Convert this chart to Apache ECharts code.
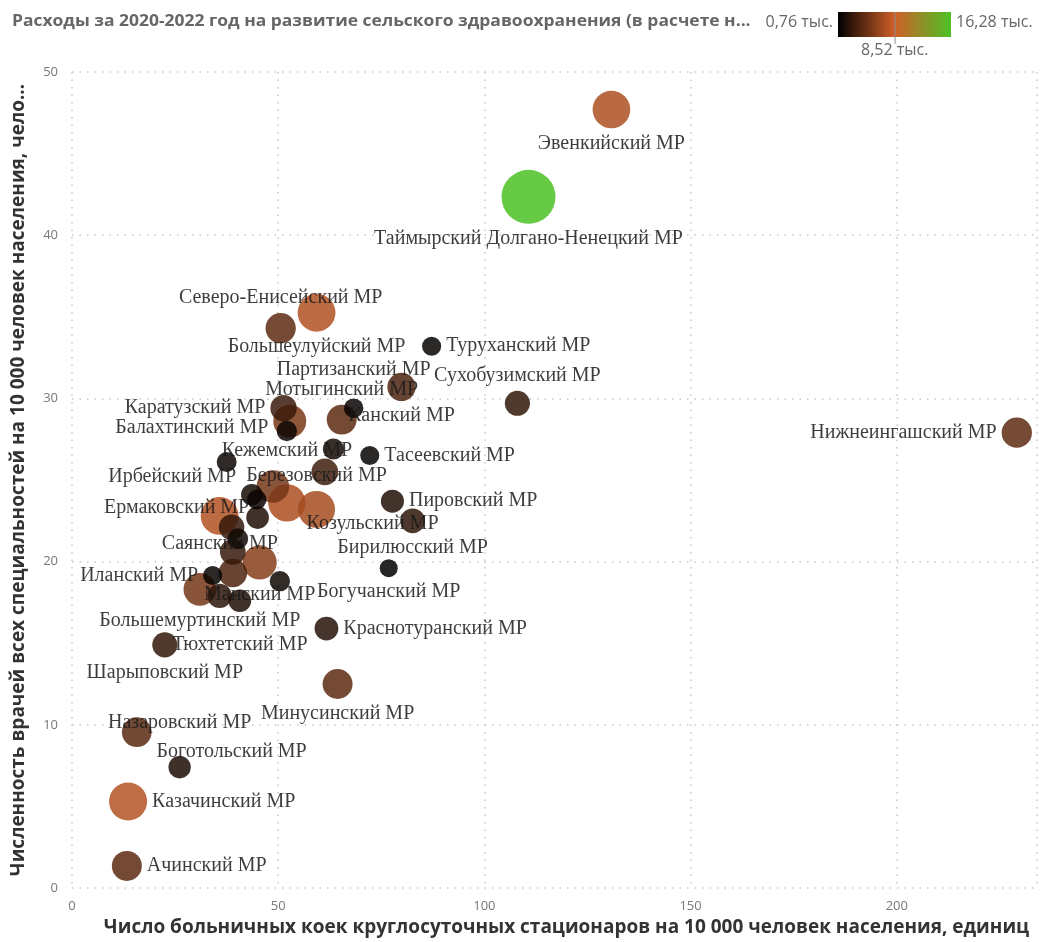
<!DOCTYPE html>
<html>
<head>
<meta charset="utf-8">
<script src="https://cdn.jsdelivr.net/npm/echarts@6/dist/echarts.min.js"></script>
<style>
  html, body { margin: 0; padding: 0; background: #fff; }
  #chart { width: 1040px; height: 942px; }
</style>
</head>
<body>
<div id="chart"></div>
<script>
// Municipal districts of Krasnoyarsk Krai
const districts = [
  'Эвенкийский МР', 'Таймырский Долгано-Ненецкий МР', 'Северо-Енисейский МР', 'Большеулуйский МР',
  'Туруханский МР', 'Партизанский МР', 'Сухобузимский МР', 'Мотыгинский МР', 'Канский МР',
  'Каратузский МР', 'Балахтинский МР', 'Кежемский МР', 'Ирбейский МР', 'Тасеевский МР',
  'Березовский МР', 'Пировский МР', 'Козульский МР', 'Бирилюсский МР', 'Богучанский МР',
  'Манский МР', 'Ермаковский МР', 'Саянский МР', 'Иланский МР', 'Большемуртинский МР',
  'Тюхтетский МР', 'Шарыповский МР', 'Краснотуранский МР', 'Минусинский МР', 'Назаровский МР',
  'Боготольский МР', 'Казачинский МР', 'Ачинский МР', 'Нижнеингашский МР',
  'Абанский МР', 'Дзержинский МР', 'Емельяновский МР', 'Енисейский МР', 'Идринский МР',
  'Курагинский МР', 'Новоселовский МР', 'Рыбинский МР', 'Ужурский МР', 'Уярский МР', 'Шушенский МР'
];

// Hospital beds per 10 000 population
const bedsPer10k = [
  130.8, 110.7, 50.6, 59.3,
  87.2, 68.3, 108.0, 65.4, 79.9,
  51.3, 52.8, 52.1, 43.6, 72.2,
  59.3, 77.7, 52.1, 82.6, 76.8,
  45.5, 45.0, 39.0, 34.1, 31.0,
  40.7, 22.5, 61.7, 64.4, 26.1,
  15.7, 13.6, 13.3, 229.1,
  63.4, 61.3, 37.5, 48.7, 44.8,
  35.8, 38.7, 40.2, 39.0, 50.4, 35.8
];

// Doctors of all specialties per 10 000 population
const doctorsPer10k = [
  47.7, 42.35, 34.3, 35.25,
  33.2, 29.4, 29.7, 28.7, 30.7,
  29.4, 28.6, 28.0, 24.1, 26.5,
  23.2, 23.7, 23.6, 22.5, 19.6,
  19.95, 22.7, 19.3, 19.15, 18.3,
  17.6, 14.9, 15.9, 12.5, 7.4,
  9.55, 5.3, 1.35, 27.9,
  26.9, 25.5, 26.1, 24.6, 23.8,
  22.8, 22.1, 21.4, 20.6, 18.8, 17.9
];

// Rural healthcare spending 2020-2022 per capita, thousand rubles
const spendingThous = [
  7.3, 16.28, 4.3, 7.4,
  1.0, 1.1, 2.6, 4.2, 3.6,
  3.0, 5.3, 1.3, 1.6, 1.0,
  7.0, 2.0, 7.2, 2.5, 0.76,
  5.8, 1.9, 3.7, 1.0, 5.2,
  1.9, 2.6, 2.2, 4.2, 1.8,
  4.1, 7.5, 4.2, 4.3,
  1.5, 3.1, 1.2, 5.2, 1.1,
  7.4, 2.7, 1.4, 2.8, 1.3, 2.4
];

const xTicks = [0, 50, 100, 150, 200];
const yTicks = [0, 10, 20, 30, 40, 50];
const spendMin = 0.76, spendMid = 8.52, spendMax = 16.28;
const spendColors = ['#000000', '#cf5f28', '#4cc125'];

// Districts whose labels are suppressed because of crowding
const unlabeled = new Set([
  'Абанский МР', 'Дзержинский МР', 'Емельяновский МР', 'Енисейский МР', 'Идринский МР',
  'Курагинский МР', 'Новоселовский МР', 'Рыбинский МР', 'Ужурский МР', 'Уярский МР', 'Шушенский МР'
]);

// Label placement around each bubble
const labelSide = {
  'Эвенкийский МР': ['bottom'], 'Таймырский Долгано-Ненецкий МР': ['bottom'],
  'Северо-Енисейский МР': ['top'], 'Большеулуйский МР': ['bottom'],
  'Туруханский МР': ['right'], 'Партизанский МР': ['top', [0, -14]],
  'Сухобузимский МР': ['top'], 'Мотыгинский МР': ['top'], 'Канский МР': ['bottom'],
  'Каратузский МР': ['left'], 'Балахтинский МР': ['left', [0, 7]], 'Кежемский МР': ['bottom', [0, -5]],
  'Ирбейский МР': ['left', [0, -18]], 'Тасеевский МР': ['right'], 'Березовский МР': ['top'],
  'Пировский МР': ['right'], 'Козульский МР': ['right', [-4, 21]], 'Бирилюсский МР': ['bottom'],
  'Богучанский МР': ['bottom'], 'Манский МР': ['bottom'], 'Ермаковский МР': ['left', [8, -10]],
  'Саянский МР': ['top', [-13, 0]], 'Иланский МР': ['left'], 'Большемуртинский МР': ['bottom'],
  'Тюхтетский МР': ['bottom', [0, 18]], 'Шарыповский МР': ['bottom'], 'Краснотуранский МР': ['right'],
  'Минусинский МР': ['bottom'], 'Назаровский МР': ['top', [0, -18]], 'Боготольский МР': ['right', [0, 20]],
  'Казачинский МР': ['right'], 'Ачинский МР': ['right'], 'Нижнеингашский МР': ['left']
};

// Bubble area grows linearly with spending
function bubbleDiameter(v) {
  return 2 * Math.sqrt(49.3 + 41.75 * v);
}

const points = districts.map((name, i) => {
  const side = labelSide[name] || ['right'];
  const item = {
    name: name,
    value: [bedsPer10k[i], doctorsPer10k[i], spendingThous[i]],
    label: { show: !unlabeled.has(name), position: side[0] }
  };
  if (side[1]) item.label.offset = side[1];
  return item;
});
// larger bubbles first so small ones stay visible
points.sort((a, b) => b.value[2] - a.value[2]);

const chart = echarts.init(document.getElementById('chart'));
const uiFont = '"Open Sans", "DejaVu Sans", sans-serif';

chart.setOption({
  animation: false,
  textStyle: { fontFamily: uiFont },
  grid: { left: 72, right: 0, top: 72, bottom: 36, containLabel: false },
  visualMap: {
    show: false, type: 'continuous', dimension: 2,
    min: spendMin, max: spendMax, inRange: { color: spendColors }
  },
  xAxis: {
    type: 'value', min: 0, max: 234, interval: 50,
    name: 'Число больничных коек круглосуточных стационаров на 10 000 человек населения, единиц',
    nameLocation: 'middle', nameGap: 30,
    nameTextStyle: { fontSize: 19, fontWeight: 'bold', color: '#333', fontFamily: uiFont, padding: [0, 0, 0, 24] },
    axisLine: { show: false }, axisTick: { show: false },
    axisLabel: { color: '#777', fontSize: 13, margin: 12, fontFamily: uiFont,
      formatter: v => xTicks.includes(v) ? String(v) : '' },
    splitLine: { show: true, lineStyle: { type: [1.5, 6], color: '#c8c8c8', width: 1.5 } }
  },
  yAxis: {
    type: 'value', min: 0, max: 50, interval: 10,
    name: 'Численность врачей всех специальностей на 10 000 человек населения, чело...',
    nameLocation: 'middle', nameGap: 44, nameRotate: 90,
    nameTextStyle: { fontSize: 19, fontWeight: 'bold', color: '#333', fontFamily: uiFont },
    axisLine: { show: false }, axisTick: { show: false },
    axisLabel: { color: '#777', fontSize: 13, margin: 14, fontFamily: uiFont,
      formatter: v => yTicks.includes(v) ? String(v) : '' },
    splitLine: { show: true, lineStyle: { type: [1.5, 6], color: '#c8c8c8', width: 1.5 } }
  },
  series: [{
    type: 'scatter',
    data: points,
    symbolSize: v => bubbleDiameter(v[2]),
    itemStyle: { opacity: 0.85 },
    label: {
      formatter: p => p.name,
      color: '#1a1a1a',
      fontSize: 20,
      fontFamily: '"Liberation Serif", "DejaVu Serif", serif',
      distance: 5
    },
    emphasis: { disabled: true }
  }],
  graphic: [
    {
      type: 'text', left: 12, top: 13, scaleX: 1.09,
      style: {
        text: 'Расходы за 2020-2022 год на развитие сельского здравоохранения (в расчете н...',
        font: 'bold 16px "Open Sans", sans-serif', fill: '#666'
      }
    },
    {
      type: 'text', right: 1040 - 833, top: 14,
      style: { text: '0,76 тыс.', font: '16px "Open Sans", sans-serif', fill: '#666' }
    },
    {
      type: 'rect', left: 838, top: 12,
      shape: { width: 113, height: 25 },
      style: {
        fill: new echarts.graphic.LinearGradient(0, 0, 1, 0, [
          { offset: 0, color: spendColors[0] },
          { offset: (spendMid - spendMin) / (spendMax - spendMin), color: spendColors[1] },
          { offset: 1, color: spendColors[2] }
        ])
      }
    },
    {
      type: 'line', shape: { x1: 895, y1: 12, x2: 895, y2: 44 },
      style: { stroke: '#8c8c8c', lineWidth: 1 }
    },
    {
      type: 'text', left: 861, top: 42,
      style: { text: '8,52 тыс.', font: '16px "Open Sans", sans-serif', fill: '#666' }
    },
    {
      type: 'text', left: 956, top: 14,
      style: { text: '16,28 тыс.', font: '16px "Open Sans", sans-serif', fill: '#666' }
    }
  ]
});
</script>
</body>
</html>
